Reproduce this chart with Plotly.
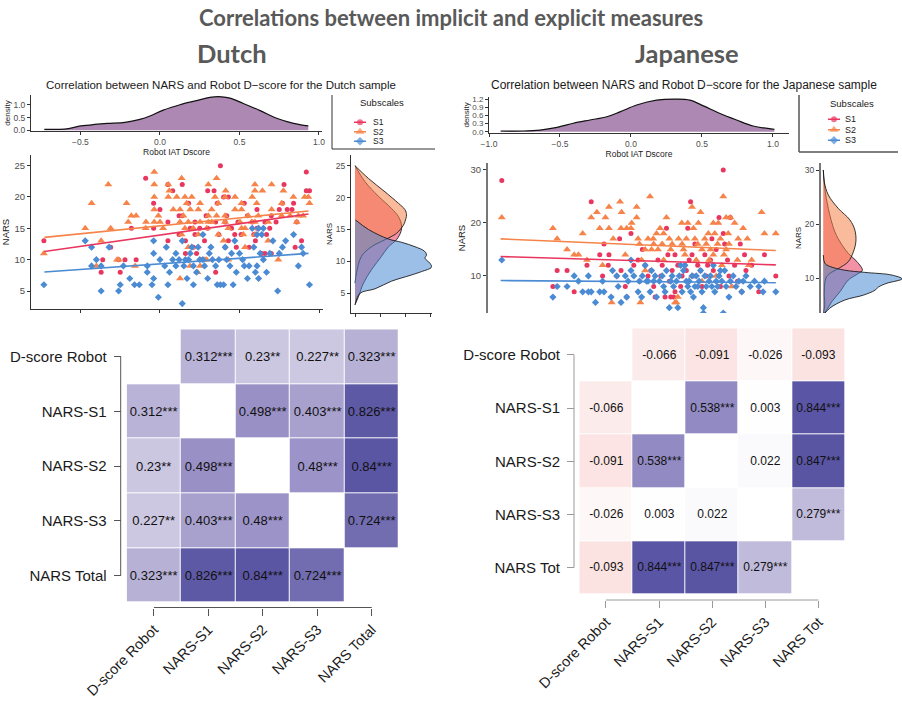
import plotly.graph_objects as go

W, H = 902, 706
FONT = "Liberation Sans, Arial, sans-serif"
TFONT = "Lato, Open Sans, sans-serif"

# ---------------- data ----------------
main_title = "Correlations between implicit and explicit measures"
panel_titles = ["Dutch", "Japanese"]
sub_titles = ["Correlation between NARS and Robot D\u2212score for the Dutch sample",
              "Correlation between NARS and Robot D\u2212score for the Japanese sample"]
subscales = ["S1", "S2", "S3"]
sub_colors = ["#E9365F", "#F6844A", "#4B8BD4"]
sub_symbols = ["circle", "triangle-up", "diamond"]
sub_sizes = [5, 7, 5.5]

# Robot IAT D-score density curves
nl_dens_x = [-0.727, -0.6, -0.497, -0.41, -0.33, -0.22, -0.126, -0.063, 0.021, 0.126, 0.23, 0.314, 0.388, 0.44, 0.524, 0.63, 0.734, 0.84, 0.933]
nl_dens_y = [0.04, 0.05, 0.17, 0.23, 0.27, 0.31, 0.43, 0.56, 0.79, 1.0, 1.16, 1.29, 1.31, 1.26, 1.05, 0.77, 0.47, 0.27, 0.17]
jp_dens_x = [-0.918, -0.758, -0.64, -0.52, -0.406, -0.289, -0.17, -0.077, 0.04, 0.18, 0.32, 0.415, 0.51, 0.627, 0.744, 0.86, 1.01]
jp_dens_y = [0.025, 0.025, 0.06, 0.16, 0.31, 0.43, 0.55, 0.73, 0.98, 1.16, 1.2, 1.16, 0.95, 0.67, 0.43, 0.21, 0.085]

# scatter points (Robot D-score, NARS subscale score)
nl_s1 = [(-0.73,13),(-0.37,8),(-0.36,10),(-0.31,12),(-0.26,10),(-0.25,8),(-0.22,10),(-0.18,15),(-0.15,10),(-0.09,23),
         (-0.04,19),(-0.04,15),(0.0,18),(0.05,22),(0.05,16),(0.05,13),(0.38,25),(0.92,24),(0.30,21),(0.34,21),
         (0.92,21),(0.40,20),(0.43,20),(0.36,19),(0.77,19),(0.75,18),(0.12,17),(0.14,17),(0.29,17),(0.42,17),
         (0.55,17),(0.61,18),(0.70,17),(0.22,16),(0.35,16),(0.41,16),(0.49,16),(0.58,16),(0.66,16),(0.19,15),
         (0.30,15),(0.45,15),(0.61,15),(0.69,15),(0.12,14),(0.22,14),(0.37,14),(0.51,14),(0.59,14),(0.67,14),
         (0.16,13),(0.28,13),(0.43,13),(0.60,13),(0.21,12),(0.41,12),(0.48,12),(0.16,11),(0.23,11),(0.66,11),
         (0.70,11),(0.35,8),(0.85,12),(0.89,13),(0.26,10),(0.08,21),(0.14,22),(0.25,15),(0.53,19),(0.80,18),
         (0.86,16),(0.94,21),(0.47,14),(0.56,12),(0.78,22),(0.84,19),(0.83,18),(0.73,16),(0.64,11),(0.18,19)]
nl_s2 = [(-0.73,11),(-0.47,15),(-0.43,19),(-0.37,13),(-0.40,9),(-0.325,22),(-0.31,15),(-0.26,10),(-0.27,10),(-0.21,19),
         (-0.20,16),(-0.18,17),(-0.15,17),(-0.157,9),(-0.088,16),(-0.09,15),(-0.036,24),(-0.036,22),(-0.036,20),(-0.036,18),
         (-0.036,16),(-0.01,17),(0.0,16),(0.02,15),(0.136,23),(0.356,23),(0.304,22),(0.597,22),(0.702,22),(0.052,22),
         (0.059,21),(0.413,21),(0.597,21),(0.644,21),(0.776,21),(0.105,20),(0.157,20),(0.2,20),(0.346,20),(0.409,20),
         (0.472,20),(0.58,20),(0.839,20),(0.933,20),(0.052,20),(0.168,19),(0.252,19),(0.367,19),(0.513,19),(0.608,19),
         (0.765,19),(0.94,19),(0.084,18),(0.126,18),(0.241,18),(0.325,18),(0.472,18),(0.513,18),(0.702,18),(0.19,18),
         (0.147,17),(0.304,17),(0.356,17),(0.409,17),(0.555,17),(0.618,17),(0.765,17),(0.818,17),(0.87,17),(0.126,16),
         (0.178,16),(0.252,16),(0.304,16),(0.325,16),(0.409,16),(0.503,16),(0.577,16),(0.597,16),(0.681,16),(0.86,16),
         (0.157,15),(0.21,15),(0.294,15),(0.43,15),(0.513,15),(0.535,15),(0.618,15),(0.136,14),(0.241,14),(0.367,14),
         (0.524,14),(0.597,14),(0.40,13),(0.68,13),(0.178,12),(0.2,12),(0.535,12),(0.283,10),(0.294,10),(0.43,10),
         (0.744,10),(0.189,9),(0.252,9),(0.236,8),(0.126,7),(0.91,20),(0.90,17)]
nl_s3 = [(-0.73,6),(-0.47,13),(-0.43,9),(-0.43,12),(-0.40,10),(-0.37,5),(-0.37,9),(-0.32,12),(-0.26,5),(-0.25,6),
         (-0.23,9),(-0.19,7),(-0.16,6),(-0.13,6),(-0.08,8),(-0.08,9),(-0.05,6),(-0.04,13),(-0.04,11),(-0.04,7),
         (-0.01,4),(0.0,10),(0.03,9),(0.04,12),(0.05,6),(0.06,8),(0.08,10),(0.10,11),(0.14,3),(0.14,13),
         (0.15,9),(0.16,10),(0.17,7),(0.19,11),(0.21,6),(0.21,9),(0.23,8),(0.24,12),(0.25,10),(0.27,14),
         (0.28,9),(0.30,7),(0.31,11),(0.35,9),(0.36,6),(0.38,6),(0.40,6),(0.41,12),(0.42,10),(0.44,9),
         (0.46,6),(0.47,13),(0.48,8),(0.50,11),(0.52,10),(0.55,7),(0.56,9),(0.58,15),(0.59,12),(0.60,8),
         (0.61,9),(0.62,7),(0.63,11),(0.65,10),(0.67,8),(0.69,11),(0.71,13),(0.74,5),(0.75,11),(0.77,12),
         (0.79,13),(0.84,14),(0.87,9),(0.89,12),(0.90,11),(0.94,6),(0.12,10),(0.18,10),(0.33,10),(0.37,10),
         (0.45,11),(0.53,9),(0.20,12),(0.10,9),(0.64,14),(0.62,15),(0.65,15),(0.61,14),(0.32,12),(0.27,10)]

jp_s1 = [(-0.91,28),(-0.28,24),(-0.40,7),(-0.52,11),(-0.45,11),(-0.55,8),(-0.31,12),(-0.22,14),(-0.19,16),(-0.155,14),
         (-0.16,12),(-0.08,17),(-0.07,11),(-0.04,8),(-0.03,6),(0.0,18),(0.02,12),(0.05,13),(0.08,15),(0.12,10),
         (0.16,8),(0.17,6),(0.22,12),(0.25,19),(0.26,14),(0.29,11),(0.31,7),(0.35,8),(0.36,10),(0.38,12),
         (0.40,19),(0.42,24),(0.43,14),(0.45,16),(0.49,11),(0.50,8),(0.52,14),(0.54,12),(0.62,21),(0.63,8),
         (0.65,30),(0.66,16),(0.69,10),(0.73,12),(0.77,16),(0.78,7),(0.80,14),(0.81,11),(0.90,7),(0.94,14),
         (1.02,10),(0.10,12),(0.14,11),(0.19,13),(0.21,10),(0.27,9),(0.33,12),(0.39,11),(0.41,13),(0.47,12),
         (0.53,10),(0.56,13),(0.58,11),(0.60,15),(0.44,10),(0.31,14),(0.65,18),(0.70,21),(-0.10,10),(0.06,9),
         (0.24,6),(0.28,6),(0.30,6),(0.57,17),(0.68,13),(-0.2,10),(0.85,12),(0.75,9)]
jp_s2 = [(-0.91,21),(-0.55,19),(-0.52,17),(-0.45,15),(-0.40,14),(-0.37,14),(-0.34,18),(-0.31,13),(-0.28,21),(-0.24,22),
         (-0.22,19),(-0.18,21),(-0.155,19),(-0.155,23),(-0.136,5),(-0.125,17),(-0.077,24),(-0.07,19),(-0.066,22),(-0.04,14),
         (-0.03,19),(0.0,19),(0.005,20),(0.04,23),(0.04,21),(0.05,17),(0.066,5),(0.075,13),(0.10,15),(0.12,17),
         (0.134,25),(0.145,15),(0.157,17),(0.18,18),(0.19,15),(0.205,19),(0.23,18),(0.25,21),(0.27,17),(0.28,15),
         (0.31,5),(0.32,5),(0.33,6),(0.335,17),(0.358,20),(0.37,15),(0.39,17),(0.40,20),(0.43,23),(0.44,19),
         (0.45,17),(0.46,13),(0.475,20),(0.49,22),(0.50,15),(0.52,17),(0.545,18),(0.56,15),(0.58,20),(0.59,18),
         (0.615,20),(0.63,17),(0.65,25),(0.655,14),(0.67,21),(0.685,18),(0.70,21),(0.71,8),(0.755,17),(0.79,19),
         (0.83,12),(0.92,22),(0.94,18),(1.02,18),(0.06,16),(0.16,16),(0.22,16),(0.29,16),(0.36,16),(0.47,16),
         (0.53,16),(0.61,16),(0.69,16),(0.75,13),(0.85,13),(0.64,12),(0.55,13),(0.23,13),(0.10,11),(0.43,10),
         (0.50,9),(0.60,10),(-0.2,12),(0.82,17),(0.38,14),(0.58,14),(0.73,20),(0.67,15)]
jp_s3 = [(-0.91,13),(-0.55,6),(-0.52,8),(-0.45,8),(-0.40,10),(-0.37,9),(-0.34,7),(-0.30,7),(-0.28,7),(-0.25,5),
         (-0.22,7),(-0.19,7),(-0.14,6),(-0.13,11),(-0.09,8),(-0.07,5),(-0.04,10),(-0.02,9),(0.02,10),(0.05,7),
         (0.06,9),(0.075,6),(0.10,12),(0.12,9),(0.135,7),(0.145,11),(0.17,10),(0.18,6),(0.20,9),(0.24,7),
         (0.27,4),(0.29,10),(0.30,8),(0.32,9),(0.33,4),(0.36,7),(0.38,12),(0.39,9),(0.40,8),(0.43,10),
         (0.44,6),(0.45,8),(0.48,9),(0.50,7),(0.51,4),(0.51,3),(0.53,8),(0.56,10),(0.58,12),(0.59,7),
         (0.61,8),(0.64,9),(0.65,3),(0.67,8),(0.69,6),(0.72,10),(0.76,9),(0.79,9),(0.81,10),(0.93,7),
         (0.94,9),(1.02,7),(-0.30,10),(-0.20,9),(-0.10,10),(0.0,11),(0.08,10),(0.11,9),(0.16,9),(0.22,10),
         (0.25,11),(0.34,10),(0.37,11),(0.41,9),(0.46,10),(0.49,11),(0.52,10),(0.55,9),(0.60,9),(0.62,10),
         (0.66,11),(0.70,9),(0.74,8),(0.78,7),(0.84,8),(0.87,9),(0.90,8),(0.23,8),(0.28,9),(0.42,7),
         (0.47,8),(0.57,8),(0.63,11),(-0.03,6),(0.0,13),(0.35,12)]

# linear fits (end points along the observed D-score range)
nl_fit_x = [-0.727, 0.934]
nl_fit = [[11.3, 17.3], [13.56, 17.77], [8.03, 11.0]]
jp_fit_x = [-0.918, 1.02]
jp_fit = [[13.65, 12.08], [16.98, 14.78], [9.12, 8.74]]

# marginal NARS densities (NARS value, density)
nl_marg_nars = [[3.2, 4.5, 6.6, 8.7, 10.8, 12.3, 13.4, 14.7, 15.7, 17, 18.3, 20.2, 22.5, 25],
                [6.6, 8.2, 10.8, 12.3, 13.4, 14.4, 15.7, 16.25, 17.3, 18.1, 19.1, 20.9, 23, 25],
                [3.2, 5, 5.7, 6.9, 7.8, 8.4, 9.1, 9.7, 10.5, 11.0, 11.6, 12.3, 13, 13.5, 15, 16.5]]
nl_marg_dens = [[0, 0.007, 0.017, 0.033, 0.053, 0.067, 0.083, 0.092, 0.093, 0.087, 0.073, 0.047, 0.02, 0],
                [0, 0.003, 0.013, 0.033, 0.06, 0.083, 0.097, 0.1, 0.103, 0.1, 0.087, 0.06, 0.027, 0],
                [0, 0.01, 0.04, 0.073, 0.11, 0.133, 0.153, 0.15, 0.14, 0.143, 0.139, 0.12, 0.093, 0.067, 0.027, 0.001]]
jp_marg_nars = [[3.4, 4.2, 5.7, 7.5, 9.7, 10.9, 11.5, 13.1, 14.6, 16.2, 18.6, 22.9, 26.6, 30],
                [3.4, 5.1, 6.9, 10, 10.9, 11.8, 13.1, 14.9, 16.8, 18.9, 20.8, 22.9, 25.4, 27.8, 30],
                [3.2, 4.5, 6, 6.9, 7.8, 8.4, 9.1, 9.9, 10.6, 11.1, 11.5, 12.2, 12.8, 14.3]]
jp_marg_dens = [[0, 0.007, 0.017, 0.033, 0.05, 0.07, 0.078, 0.067, 0.05, 0.037, 0.023, 0.01, 0.003, 0],
                [0, 0.003, 0.002, 0.005, 0.013, 0.03, 0.05, 0.06, 0.065, 0.063, 0.053, 0.03, 0.01, 0.002, 0],
                [0, 0.013, 0.043, 0.08, 0.103, 0.11, 0.127, 0.157, 0.137, 0.083, 0.043, 0.013, 0.003, 0]]

# correlation matrices
NA = float("nan")
nl_labels = ["D-score Robot", "NARS-S1", "NARS-S2", "NARS-S3", "NARS Total"]
nl_r = [[NA, 0.312, 0.23, 0.227, 0.323],
        [0.312, NA, 0.498, 0.403, 0.826],
        [0.23, 0.498, NA, 0.48, 0.84],
        [0.227, 0.403, 0.48, NA, 0.724],
        [0.323, 0.826, 0.84, 0.724, NA]]
nl_sig = [["", "***", "**", "**", "***"],
          ["***", "", "***", "***", "***"],
          ["**", "***", "", "***", "***"],
          ["**", "***", "***", "", "***"],
          ["***", "***", "***", "***", ""]]
jp_labels = ["D-score Robot", "NARS-S1", "NARS-S2", "NARS-S3", "NARS Tot"]
jp_r = [[NA, -0.066, -0.091, -0.026, -0.093],
        [-0.066, NA, 0.538, 0.003, 0.844],
        [-0.091, 0.538, NA, 0.022, 0.847],
        [-0.026, 0.003, 0.022, NA, 0.279],
        [-0.093, 0.844, 0.847, 0.279, NA]]
jp_sig = [["", "", "", "", ""],
          ["", "", "***", "", "***"],
          ["", "***", "", "", "***"],
          ["", "", "", "", "***"],
          ["", "***", "***", "***", ""]]

corr_colorscale = [[0.0, "#B2182B"], [0.45, "#FBE1E0"], [0.5, "#FFFFFF"], [0.615, "#CBC7E1"],
                   [0.656, "#B9B3D7"], [0.7015, "#A8A1CE"], [0.75, "#9990C6"], [0.862, "#726CB0"],
                   [0.92, "#5B56A4"], [1.0, "#3F3B96"]]


# ---------------- helpers ----------------
def fx(px):
    return px / W


def fy(py):
    return 1 - py / H


def rgba(hex_color, a):
    h = hex_color.lstrip("#")
    return "rgba(%d,%d,%d,%.2f)" % (int(h[0:2], 16), int(h[2:4], 16), int(h[4:6], 16), a)


def cell_text(r, sig):
    out = []
    for rr, ss in zip(r, sig):
        out.append(["" if v != v else ("%s%s" % (repr(v), s)) for v, s in zip(rr, ss)])
    return out


def ax(**kw):
    base = dict(showline=True, linecolor="#333", linewidth=1, ticks="outside", ticklen=3,
                tickcolor="#333", tickwidth=1, showgrid=False, zeroline=False, automargin=False,
                tickfont=dict(size=8.5, color="#4d4d4d", family=FONT),
                title_font=dict(size=8.5, color="#222", family=FONT))
    base.update(kw)
    return base


fig = go.Figure()

# ---------------- top densities ----------------
fig.add_trace(go.Scatter(x=nl_dens_x, y=nl_dens_y, mode="lines", fill="tozeroy",
                         fillcolor="#AD88B2", line=dict(color="#111", width=1.2, shape="spline"),
                         xaxis="x", yaxis="y", showlegend=False, hoverinfo="skip"))
fig.add_trace(go.Scatter(x=jp_dens_x, y=jp_dens_y, mode="lines", fill="tozeroy",
                         fillcolor="#AD88B2", line=dict(color="#111", width=1.2, shape="spline"),
                         xaxis="x5", yaxis="y5", showlegend=False, hoverinfo="skip"))

# ---------------- scatters ----------------
for pts_list, fit_x, fits, xa, ya in [((nl_s1, nl_s2, nl_s3), nl_fit_x, nl_fit, "x2", "y2"),
                                      ((jp_s1, jp_s2, jp_s3), jp_fit_x, jp_fit, "x6", "y6")]:
    for i, pts in enumerate(pts_list):
        fig.add_trace(go.Scatter(x=[p[0] for p in pts], y=[p[1] for p in pts], mode="markers",
                                 marker=dict(color=sub_colors[i], symbol=sub_symbols[i], size=sub_sizes[i],
                                             line=dict(width=0)),
                                 xaxis=xa, yaxis=ya, showlegend=False, name=subscales[i]))
    for i in range(3):
        fig.add_trace(go.Scatter(x=fit_x, y=fits[i], mode="lines",
                                 line=dict(color=sub_colors[i], width=1.6),
                                 xaxis=xa, yaxis=ya, showlegend=False, hoverinfo="skip"))

# ---------------- marginal densities ----------------
for nars, dens, xa, ya in [(nl_marg_nars, nl_marg_dens, "x3", "y3"), (jp_marg_nars, jp_marg_dens, "x7", "y7")]:
    for i in range(3):
        fig.add_trace(go.Scatter(x=dens[i], y=nars[i], mode="lines", fill="tozerox",
                                 fillcolor=rgba(sub_colors[i], 0.55),
                                 line=dict(color="rgba(20,20,20,0.85)", width=1, shape="spline"),
                                 xaxis=xa, yaxis=ya, showlegend=False, hoverinfo="skip"))

# ---------------- legends (manual) ----------------
for xa, ya in [("x9", "y9"), ("x10", "y10")]:
    for i, s in enumerate(subscales):
        fig.add_trace(go.Scatter(x=[0, 0.5, 1], y=[s, s, s], mode="lines+markers",
                                 line=dict(color=sub_colors[i], width=1.5),
                                 marker=dict(color=sub_colors[i], symbol=sub_symbols[i],
                                             size=[0, sub_sizes[i] + 1, 0], line=dict(width=0)),
                                 xaxis=xa, yaxis=ya, showlegend=False, hoverinfo="skip"))

# ---------------- heatmaps ----------------
fig.add_trace(go.Heatmap(z=nl_r, x=nl_labels, y=nl_labels, text=cell_text(nl_r, nl_sig),
                         texttemplate="%{text}", textfont=dict(size=13, color="#111", family=FONT),
                         colorscale=corr_colorscale, zmin=-1, zmax=1, showscale=False,
                         xgap=1, ygap=1, hoverongaps=False, xaxis="x4", yaxis="y4"))
fig.add_trace(go.Heatmap(z=jp_r, x=jp_labels, y=jp_labels, text=cell_text(jp_r, jp_sig),
                         texttemplate="%{text}", textfont=dict(size=12, color="#111", family=FONT),
                         colorscale=corr_colorscale, zmin=-1, zmax=1, showscale=False,
                         xgap=1, ygap=1, hoverongaps=False, xaxis="x8", yaxis="y8"))

# ---------------- layout ----------------
lay = dict(width=W, height=H, margin=dict(l=0, r=0, t=0, b=0, pad=0, autoexpand=False),
           paper_bgcolor="white", plot_bgcolor="rgba(0,0,0,0)", showlegend=False, font=dict(family=FONT))

# Dutch density
lay["xaxis"] = ax(domain=[fx(31), fx(322)], range=[-0.811, 1.019], anchor="y",
                  tickvals=[-0.5, 0, 0.5, 1.0], ticktext=["\u22120.5", "0.0", "0.5", "1.0"],
                  title=dict(text="Robot IAT Dscore", standoff=1))
lay["yaxis"] = ax(domain=[fy(131), fy(95)], range=[-0.027, 1.38], anchor="x",
                  tickvals=[0, 0.5, 1.0], ticktext=["0.0", "0.5", "1.0"],
                  title=dict(text="density", standoff=1, font=dict(size=8)))
# Dutch scatter
lay["xaxis2"] = ax(domain=[fx(31), fx(323)], range=[-0.811, 1.025], anchor="y2",
                   tickvals=[-0.5, 0, 0.5, 1.0], showticklabels=False)
lay["yaxis2"] = ax(domain=[fy(309), fy(155)], range=[2.13, 26.7], anchor="x2",
                   tickvals=[5, 10, 15, 20, 25], tickfont=dict(size=9.5, color="#4d4d4d", family=FONT),
                   title=dict(text="NARS", standoff=3, font=dict(size=9.5)))
# Dutch marginal
lay["xaxis3"] = ax(domain=[fx(351), fx(432)], range=[-0.008, 0.154], anchor="y3",
                   tickvals=[0, 0.05, 0.1, 0.15], showticklabels=False)
lay["yaxis3"] = ax(domain=[fy(313), fy(155)], range=[1.91, 26.68], anchor="x3",
                   tickvals=[5, 10, 15, 20, 25], tickfont=dict(size=8.5, color="#4d4d4d", family=FONT),
                   title=dict(text="NARS", standoff=2, font=dict(size=8)))
# Japanese density
lay["xaxis5"] = ax(domain=[fx(489), fx(789)], range=[-1.0, 1.113], anchor="y5",
                   tickvals=[-1.0, -0.5, 0, 0.5, 1.0], ticktext=["\u22121.0", "\u22120.5", "0.0", "0.5", "1.0"],
                   title=dict(text="Robot IAT Dscore", standoff=1))
lay["yaxis5"] = ax(domain=[fy(133), fy(96.7)], range=[-0.048, 1.287], anchor="x5",
                   tickvals=[0, 0.3, 0.6, 0.9, 1.2], ticktext=["0.0", "0.3", "0.6", "0.9", "1.2"],
                   tickfont=dict(size=8, color="#4d4d4d", family=FONT),
                   title=dict(text="density", standoff=1, font=dict(size=8)))
# Japanese scatter
lay["xaxis6"] = ax(domain=[fx(488), fx(789)], range=[-1.007, 1.113], anchor="y6", visible=False)
lay["yaxis6"] = ax(domain=[fy(313), fy(163)], range=[3.0, 31.3], anchor="x6",
                   tickvals=[10, 20, 30], linecolor="#777", linewidth=2,
                   tickfont=dict(size=9.5, color="#4d4d4d", family=FONT),
                   title=dict(text="NARS", standoff=3, font=dict(size=9.5)))
# Japanese marginal
lay["xaxis7"] = ax(domain=[fx(821), fx(902)], range=[-0.0046, 0.157], anchor="y7", visible=False)
lay["yaxis7"] = ax(domain=[fy(313), fy(163)], range=[3.6, 31.3], anchor="x7",
                   tickvals=[10, 20, 30], linecolor="#777", linewidth=2,
                   tickfont=dict(size=8.5, color="#4d4d4d", family=FONT),
                   title=dict(text="NARS", standoff=2, font=dict(size=8)))
# legend glyph axes
lay["xaxis9"] = dict(domain=[fx(354), fx(366)], range=[0, 1], anchor="y9", visible=False, automargin=False)
lay["yaxis9"] = dict(domain=[fy(146), fy(117.5)], range=[2.5, -0.5], anchor="x9", type="category",
                     categoryorder="array", categoryarray=subscales, tickmode="array", tickvals=subscales,
                     side="right", showline=False, automargin=False,
                     showgrid=False, zeroline=False, ticks="", ticklabelstandoff=6,
                     tickfont=dict(size=8.5, color="#222", family=FONT))
lay["xaxis10"] = dict(domain=[fx(828), fx(840)], range=[0, 1], anchor="y10", visible=False, automargin=False)
lay["yaxis10"] = dict(domain=[fy(145.5), fy(114)], range=[2.5, -0.5], anchor="x10", type="category",
                      categoryorder="array", categoryarray=subscales, tickmode="array", tickvals=subscales,
                      side="right", showline=False, automargin=False,
                      showgrid=False, zeroline=False, ticks="", ticklabelstandoff=4,
                      tickfont=dict(size=9, color="#222", family=FONT))


def heat_axes(xdom, ydom, xpos, ypos, tcol, fsize):
    xa = dict(domain=xdom, anchor="free", position=xpos, type="category", tickangle=-45,
              ticks="outside", ticklen=7, tickcolor=tcol, tickwidth=1, showline=False, automargin=False,
              showgrid=False, zeroline=False, tickfont=dict(size=fsize, color="#1a1a1a", family=FONT))
    ya = dict(domain=ydom, anchor="free", position=ypos, type="category", autorange="reversed",
              ticks="outside", ticklen=7, tickcolor=tcol, tickwidth=1, showline=False, automargin=False,
              showgrid=False, zeroline=False, ticklabelstandoff=4,
              tickfont=dict(size=fsize + 0.5, color="#1a1a1a", family=FONT))
    return xa, ya


lay["xaxis4"], lay["yaxis4"] = heat_axes([fx(126.7), fx(399)], [fy(602.7), fy(329.3)],
                                         fy(607.5), fx(120.7), "#555", 14.5)
lay["xaxis8"], lay["yaxis8"] = heat_axes([fx(579.3), fx(845)], [fy(594.3), fy(328.3)],
                                         fy(600), fx(574), "#9a9a9a", 14.5)

shapes = [
    # heatmap axis lines (from first to last category)
    dict(type="line", xref="paper", x0=fx(120.7), x1=fx(120.7), yref="y4", y0=0, y1=len(nl_labels) - 1,
         line=dict(color="#555", width=1)),
    dict(type="line", yref="paper", y0=fy(607.5), y1=fy(607.5), xref="x4", x0=0, x1=len(nl_labels) - 1,
         line=dict(color="#555", width=1)),
    dict(type="line", xref="paper", x0=fx(574), x1=fx(574), yref="y8", y0=0, y1=len(jp_labels) - 1,
         line=dict(color="#9a9a9a", width=1)),
    dict(type="line", yref="paper", y0=fy(600), y1=fy(600), xref="x8", x0=0, x1=len(jp_labels) - 1,
         line=dict(color="#9a9a9a", width=1)),
    # legend panel frames
    dict(type="line", xref="paper", yref="paper", x0=fx(332), x1=fx(332), y0=fy(95), y1=fy(149),
         line=dict(color="#333", width=1)),
    dict(type="line", xref="paper", yref="paper", x0=fx(332), x1=fx(435), y0=fy(149), y1=fy(149),
         line=dict(color="#333", width=1)),
    dict(type="line", xref="paper", yref="paper", x0=fx(799), x1=fx(799), y0=fy(95), y1=fy(152),
         line=dict(color="#555", width=1.5)),
    dict(type="line", xref="paper", yref="paper", x0=fx(799), x1=fx(898), y0=fy(152), y1=fy(152),
         line=dict(color="#555", width=1.5)),
]
lay["shapes"] = shapes

annotations = [
    dict(text="<b>%s</b>" % main_title, x=0.5, y=fy(17), xref="paper", yref="paper", showarrow=False,
         xanchor="center", yanchor="middle", font=dict(family=TFONT, size=22, color="#595959")),
    dict(text="<b>%s</b>" % panel_titles[0], x=fx(232), y=fy(53), xref="paper", yref="paper", showarrow=False,
         xanchor="center", yanchor="middle", font=dict(family=TFONT, size=25.5, color="#595959")),
    dict(text="<b>%s</b>" % panel_titles[1], x=fx(687), y=fy(53), xref="paper", yref="paper", showarrow=False,
         xanchor="center", yanchor="middle", font=dict(family=TFONT, size=25.5, color="#595959")),
    dict(text=sub_titles[0], x=fx(221), y=fy(85), xref="paper", yref="paper", showarrow=False,
         xanchor="center", yanchor="middle", font=dict(family=FONT, size=11.5, color="#1a1a1a")),
    dict(text=sub_titles[1], x=fx(684), y=fy(85), xref="paper", yref="paper", showarrow=False,
         xanchor="center", yanchor="middle", font=dict(family=FONT, size=12, color="#1a1a1a")),
    dict(text="Subscales", x=fx(358), y=fy(103), xref="paper", yref="paper", showarrow=False,
         xanchor="left", yanchor="middle", font=dict(family=FONT, size=9.5, color="#1a1a1a")),
    dict(text="Subscales", x=fx(828), y=fy(104), xref="paper", yref="paper", showarrow=False,
         xanchor="left", yanchor="middle", font=dict(family=FONT, size=9.5, color="#1a1a1a")),
]
lay["annotations"] = annotations

fig.update_layout(**lay)
fig.write_html("out.html", config={"displayModeBar": False, "staticPlot": True},
               post_script="document.body.style.margin='0';document.body.style.overflow='hidden';")
